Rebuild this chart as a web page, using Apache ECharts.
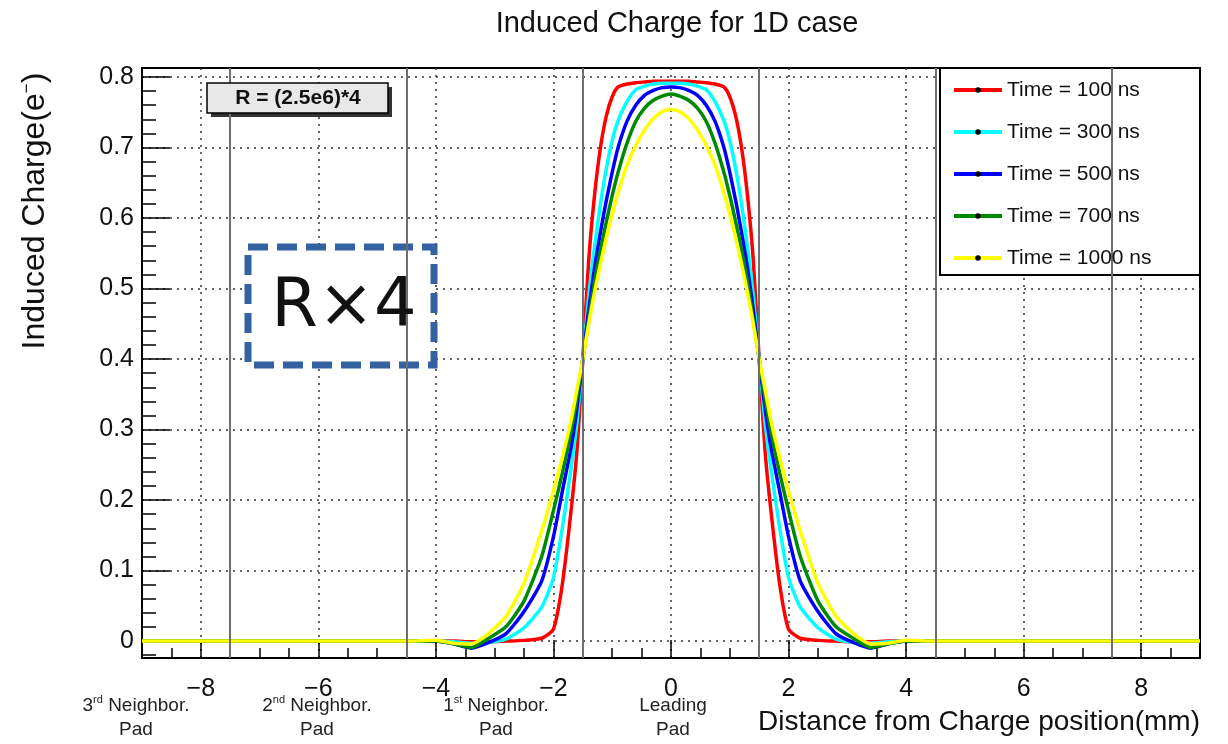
<!DOCTYPE html>
<html>
<head>
<meta charset="utf-8">
<title>Induced Charge for 1D case</title>
<script src="https://cdn.jsdelivr.net/npm/echarts@6/dist/echarts.min.js"></script>
<style>
  html, body { margin: 0; padding: 0; background: #fff; }
  #chart { width: 1228px; height: 744px; }
</style>
</head>
<body>
<div id="chart"></div>
<script>
// charge position (mm), shared by every curve
const positions = [-9, -4.5, -4.0, -3.7, -3.4, -3.1, -2.8, -2.5, -2.2, -2.0, -1.85, -1.7, -1.6, -1.5, -1.4, -1.3, -1.2, -1.1, -1.0, -0.9, -0.75, -0.6, -0.45, -0.3, -0.15,
  0,
  0.15, 0.3, 0.45, 0.6, 0.75, 0.9, 1.0, 1.1, 1.2, 1.3, 1.4, 1.5, 1.6, 1.7, 1.85, 2.0, 2.2, 2.5, 2.8, 3.1, 3.4, 3.7, 4.0, 4.5, 9];

// induced charge
const t100 = [0, 0, 0, 0, -0.001, -0.001, 0, 0.001, 0.004, 0.017, 0.08, 0.185, 0.27, 0.40, 0.54, 0.633, 0.70, 0.745, 0.772, 0.786, 0.790, 0.792, 0.793, 0.794, 0.794,
  0.794,
  0.794, 0.794, 0.793, 0.792, 0.790, 0.786, 0.772, 0.745, 0.70, 0.633, 0.54, 0.40, 0.27, 0.185, 0.08, 0.017, 0.004, 0.001, 0, -0.001, -0.001, 0, 0, 0, 0];
const t300 = [0, 0, 0, -0.001, -0.003, -0.002, 0.003, 0.019, 0.048, 0.09, 0.16, 0.245, 0.31, 0.40, 0.49, 0.56, 0.62, 0.67, 0.71, 0.738, 0.765, 0.782, 0.787, 0.790, 0.791,
  0.791,
  0.791, 0.790, 0.787, 0.782, 0.765, 0.738, 0.71, 0.67, 0.62, 0.56, 0.49, 0.40, 0.31, 0.245, 0.16, 0.09, 0.048, 0.019, 0.003, -0.002, -0.003, -0.001, 0, 0, 0];
const t500 = [0, 0, 0, -0.004, -0.010, -0.002, 0.011, 0.042, 0.085, 0.148, 0.212, 0.275, 0.33, 0.40, 0.47, 0.53, 0.58, 0.625, 0.665, 0.70, 0.737, 0.76, 0.774, 0.781, 0.785,
  0.786,
  0.785, 0.781, 0.774, 0.76, 0.737, 0.70, 0.665, 0.625, 0.58, 0.53, 0.47, 0.40, 0.33, 0.275, 0.212, 0.148, 0.085, 0.042, 0.011, -0.002, -0.010, -0.004, 0, 0, 0];
const t700 = [0, 0, 0, -0.004, -0.009, 0.004, 0.021, 0.057, 0.12, 0.185, 0.238, 0.297, 0.345, 0.40, 0.455, 0.51, 0.555, 0.595, 0.632, 0.665, 0.706, 0.737, 0.756, 0.767, 0.773,
  0.776,
  0.773, 0.767, 0.756, 0.737, 0.706, 0.665, 0.632, 0.595, 0.555, 0.51, 0.455, 0.40, 0.345, 0.297, 0.238, 0.185, 0.12, 0.057, 0.021, 0.004, -0.009, -0.004, 0, 0, 0];
const t1000 = [0, 0, 0.001, -0.003, -0.004, 0.011, 0.036, 0.082, 0.156, 0.213, 0.26, 0.313, 0.357, 0.40, 0.45, 0.495, 0.535, 0.572, 0.605, 0.636, 0.675, 0.703, 0.725, 0.741, 0.751,
  0.754,
  0.751, 0.741, 0.725, 0.703, 0.675, 0.636, 0.605, 0.572, 0.535, 0.495, 0.45, 0.40, 0.357, 0.313, 0.26, 0.213, 0.156, 0.082, 0.036, 0.011, -0.004, -0.003, 0.001, 0, 0];

const curves = [t100, t300, t500, t700, t1000];
const curveNames = ['Time = 100 ns', 'Time = 300 ns', 'Time = 500 ns', 'Time = 700 ns', 'Time = 1000 ns'];
const curveColors = ['#ff0000', '#00ffff', '#0000ff', '#008a00', '#ffff00'];

const xTicks = [-8, -6, -4, -2, 0, 2, 4, 6, 8];
const yTicks = [0, 0.1, 0.2, 0.3, 0.4, 0.5, 0.6, 0.7, 0.8];
// pad boundaries (pads are 3 mm wide)
const padEdges = [-7.5, -4.5, -1.5, 1.5, 4.5, 7.5];

const xMinor = [];
for (let i = -18; i <= 18; i++) xMinor.push(i * 0.5);
const yMinor = [];
for (let i = -1; i <= 40; i++) yMinor.push(+(i * 0.02).toFixed(2));

const font = "'Liberation Sans', Arial, sans-serif";
const myChart = echarts.init(document.getElementById('chart'));

const series = [{
  name: 'pads',
  type: 'line',
  data: [],
  silent: true,
  z: 1,
  markLine: {
    symbol: ['none', 'none'],
    silent: true,
    animation: false,
    label: { show: false },
    lineStyle: { color: '#6e6e6e', width: 2, type: 'solid' },
    data: padEdges.map((x) => ({ xAxis: x })),
  },
}];

curves.forEach((vals, k) => {
  series.push({
    name: curveNames[k],
    type: 'line',
    data: positions.map((x, i) => [x, vals[i]]),
    smooth: 0.2,
    symbol: 'circle',
    symbolSize: 6,
    showSymbol: false,
    silent: true,
    z: 2 + k * 0.01,
    itemStyle: { color: '#000' },
    lineStyle: { color: curveColors[k], width: 3.5 },
  });
});

const options = {
  animation: false,
  title: {
    text: 'Induced Charge for 1D case',
    left: 672,
    top: 4,
    textAlign: 'center',
    textStyle: { fontSize: 29, fontWeight: 'normal', color: '#111', fontFamily: font },
  },
  grid: {
    left: 142, right: 28, top: 68, bottom: 86,
    show: true, borderColor: '#000', borderWidth: 2,
  },
  legend: {
    data: curveNames,
    orient: 'vertical',
    left: 952,
    top: 79,
    padding: 0,
    itemWidth: 48,
    itemHeight: 7,
    itemGap: 20,
    selectedMode: false,
    lineStyle: { width: 4 },
    textStyle: { fontSize: 21, lineHeight: 22, color: '#111', fontFamily: font },
    z: 6,
  },
  xAxis: [{
    type: 'value', min: -9, max: 9,
    axisLine: { onZero: false, lineStyle: { color: '#000', width: 2 } },
    axisTick: { inside: true, length: 18, customValues: xTicks, lineStyle: { color: '#000', width: 1.5 } },
    axisLabel: {
      customValues: xTicks,
      margin: 19,
      fontSize: 25,
      color: '#111',
      fontFamily: font,
      formatter: (v) => (v < 0 ? '\u2212' + Math.abs(v) : String(v)),
    },
    splitLine: { show: true, lineStyle: { color: '#333', width: 1.5, type: [2, 5] } },
  }, {
    type: 'value', min: -9, max: 9, position: 'bottom',
    axisLine: { show: false, onZero: false },
    axisTick: { inside: true, length: 10, customValues: xMinor, lineStyle: { color: '#000', width: 1.5 } },
    axisLabel: { show: false },
    splitLine: { show: false },
  }],
  yAxis: [{
    type: 'value', min: -0.024, max: 0.8128,
    axisLine: { show: true, onZero: false, lineStyle: { color: '#000', width: 2 } },
    axisTick: { show: true, inside: true, length: 28, customValues: yTicks, lineStyle: { color: '#000', width: 1.5 } },
    axisLabel: {
      customValues: yTicks,
      margin: 8,
      fontSize: 25,
      color: '#111',
      fontFamily: font,
      formatter: (v) => (v === 0 ? '0' : v.toFixed(1)),
    },
    splitLine: { show: true, lineStyle: { color: '#333', width: 1.5, type: [2, 5] } },
  }, {
    type: 'value', min: -0.024, max: 0.8128, position: 'left',
    axisLine: { show: false, onZero: false },
    axisTick: { show: true, inside: true, length: 14, customValues: yMinor, lineStyle: { color: '#000', width: 1.5 } },
    axisLabel: { show: false },
    splitLine: { show: false },
  }],
  graphic: [
    // legend frame
    {
      type: 'rect', z: 3,
      shape: { x: 940, y: 68, width: 260, height: 207 },
      style: { fill: '#fff', stroke: '#000', lineWidth: 2 },
    },
    // y axis title
    {
      type: 'text', z: 5, x: 35, y: 211, rotation: Math.PI / 2,
      style: {
        text: 'Induced Charge(e{sup|\u2212})',
        fontSize: 32, fontFamily: font, fill: '#111',
        align: 'center', verticalAlign: 'middle',
        rich: { sup: { fontSize: 17, fontFamily: font, fill: '#111', verticalAlign: 'top', padding: [0, 0, 15, 0] } },
      },
    },
    // x axis title
    {
      type: 'text', z: 5, x: 1200, y: 722,
      style: {
        text: 'Distance from Charge position(mm)',
        fontSize: 28, fontFamily: font, fill: '#111',
        align: 'right', verticalAlign: 'middle',
      },
    },
    // pad names under the axis
    ...[
      { x: 136, t: '3{sup|rd} Neighbor.\nPad' },
      { x: 317, t: '2{sup|nd} Neighbor.\nPad' },
      { x: 496, t: '1{sup|st} Neighbor.\nPad' },
      { x: 673, t: 'Leading\nPad' },
    ].map((p) => ({
      type: 'text', z: 5, x: p.x, y: 718,
      style: {
        text: p.t, fontSize: 19, lineHeight: 24, fontFamily: font, fill: '#222',
        align: 'center', verticalAlign: 'middle',
        rich: { sup: { fontSize: 11, lineHeight: 24, fontFamily: font, fill: '#222', verticalAlign: 'top', padding: [0, 0, 8, 0] } },
      },
    })),
    // R label box with shadow
    {
      type: 'rect', z: 5,
      shape: { x: 211, y: 87, width: 181, height: 30 },
      style: { fill: '#333' },
    },
    {
      type: 'rect', z: 6,
      shape: { x: 207, y: 83, width: 181, height: 30 },
      style: { fill: '#e8e8e8', stroke: '#000', lineWidth: 1.5 },
    },
    {
      type: 'text', z: 7, x: 298, y: 98,
      style: {
        text: 'R = (2.5e6)*4',
        fontSize: 21, fontWeight: 'bold', fontFamily: "'Liberation Sans Narrow', 'Liberation Sans', sans-serif",
        fill: '#111', align: 'center', verticalAlign: 'middle',
      },
    },
    // dashed R x4 annotation
    {
      type: 'rect', z: 5,
      shape: { x: 248, y: 247, width: 186, height: 118 },
      style: { fill: '#fff', stroke: '#3461a0', lineWidth: 7, lineDash: [20, 9] },
    },
    {
      type: 'text', z: 6, x: 344, y: 309,
      style: {
        text: 'R\u00d74', fontSize: 67, fontFamily: "'DejaVu Sans', sans-serif",
        fill: '#111', align: 'center', verticalAlign: 'middle',
      },
    },
  ],
  series: series,
};

myChart.setOption(options);
</script>
</body>
</html>
